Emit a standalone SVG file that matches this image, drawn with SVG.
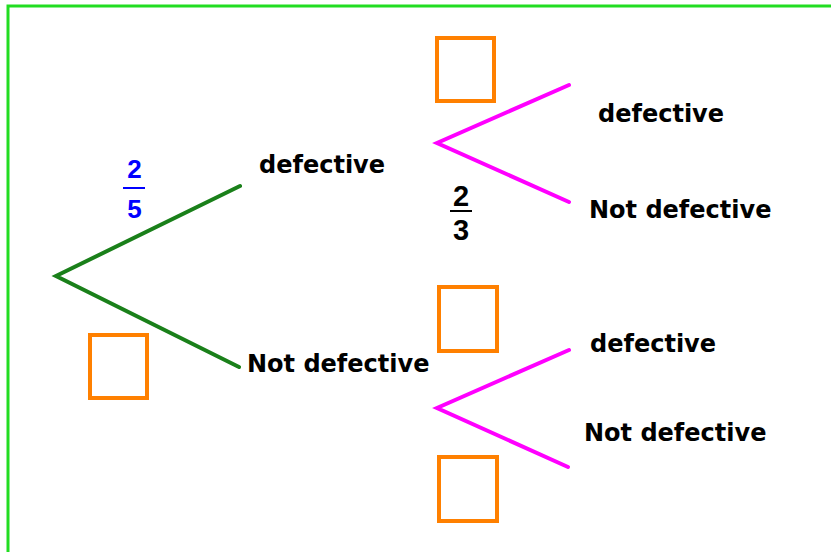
<svg xmlns="http://www.w3.org/2000/svg" width="831" height="552" viewBox="0 0 831 552">
<style>
.frame{fill:none;stroke:#22dd22;stroke-width:3}
.box{fill:none;stroke:#ff8000;stroke-width:4}
.g{stroke:#1a801a;stroke-width:4;stroke-linecap:round;fill:none}
.m{stroke:#ff00ff;stroke-width:4;stroke-linecap:round;fill:none}
.lbl{font-family:"DejaVu Sans",sans-serif;font-weight:bold;font-size:24px;fill:#000}
.fr{font-family:"Liberation Sans",Arial,sans-serif;font-weight:bold;text-anchor:middle}
</style>
<rect width="831" height="552" fill="#fff"/>
<rect class="frame" x="8" y="6" width="840" height="560"/>
<g id="connectors">
<polyline class="g" points="240,186 56,276 239,367"/>
<polyline class="m" points="569,85 437,143 569,202"/>
<polyline class="m" points="569,350 437,408 568,467"/>
</g>
<g id="box-top"><rect class="box" x="437" y="38" width="57" height="63"/></g>
<g id="box-left"><rect class="box" x="90" y="335" width="57" height="63"/></g>
<g id="box-mid"><rect class="box" x="439" y="287" width="58" height="64"/></g>
<g id="box-bottom"><rect class="box" x="439" y="457" width="58" height="64"/></g>
<g id="frac-2-5">
<text class="fr" x="134.5" y="178" font-size="26" fill="#0000ff">2</text>
<line x1="123" y1="188" x2="145" y2="188" stroke="#0000ff" stroke-width="2"/>
<text class="fr" x="134.5" y="218" font-size="26" fill="#0000ff">5</text>
</g>
<g id="frac-2-3">
<text class="fr" x="461" y="206" font-size="29" fill="#000">2</text>
<line x1="450" y1="211" x2="472" y2="211" stroke="#000" stroke-width="2"/>
<text class="fr" x="461" y="240" font-size="29" fill="#000">3</text>
</g>
<g id="n-defective"><text class="lbl" x="259" y="173">defective</text></g>
<g id="n-not-defective"><text class="lbl" x="247" y="372">Not defective</text></g>
<g id="n-dd"><text class="lbl" x="598" y="122">defective</text></g>
<g id="n-dn"><text class="lbl" x="589" y="218">Not defective</text></g>
<g id="n-nd"><text class="lbl" x="590" y="352">defective</text></g>
<g id="n-nn"><text class="lbl" x="584" y="441">Not defective</text></g>
</svg>
